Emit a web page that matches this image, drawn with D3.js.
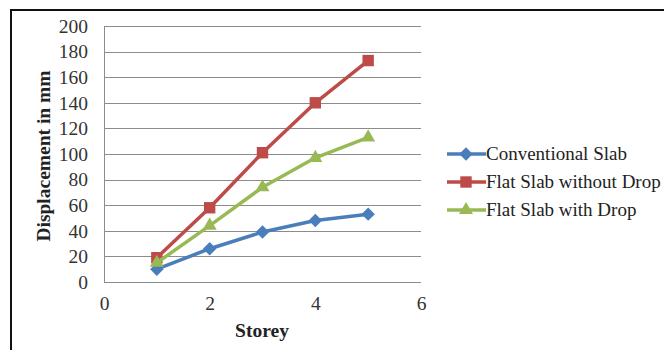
<!DOCTYPE html>
<html>
<head>
<meta charset="utf-8">
<script src="https://cdn.jsdelivr.net/npm/d3@7"></script>
<style>
  html, body { margin: 0; padding: 0; background: #fff; }
  svg { display: block; }
</style>
</head>
<body>
<svg id="chart" width="664" height="350"></svg>
<script>
// Storey numbers and lateral displacement (mm) per slab system
const storeys = [1, 2, 3, 4, 5];
const conventionalSlab = [10, 26, 39, 48, 53];
const flatSlabWithoutDrop = [19, 58, 101, 140, 173];
const flatSlabWithDrop = [15, 44, 74, 97, 113];

const seriesNames = ["Conventional Slab", "Flat Slab without Drop", "Flat Slab with Drop"];
const xTicks = [0, 2, 4, 6];
const yTicks = [0, 20, 40, 60, 80, 100, 120, 140, 160, 180, 200];

const FONT = "'Liberation Serif', 'Times New Roman', serif";

// a diamond drawn as a square turned 45 degrees
const diamond = {
  draw(ctx, size) {
    const r = Math.sqrt(size / 2);
    ctx.moveTo(0, -r); ctx.lineTo(r, 0); ctx.lineTo(0, r); ctx.lineTo(-r, 0); ctx.closePath();
  }
};

const series = [
  { name: seriesNames[0], values: conventionalSlab, color: "#4a7ebb", symbol: diamond, size: 90 },
  { name: seriesNames[1], values: flatSlabWithoutDrop, color: "#be4b48", symbol: d3.symbolSquare, size: 130 },
  { name: seriesNames[2], values: flatSlabWithDrop, color: "#98b954", symbol: d3.symbolTriangle, size: 85 }
];

const svg = d3.select("#chart");

// outer frame (top and left edges)
svg.append("line").attr("x1", 10).attr("x2", 664).attr("y1", 10).attr("y2", 10)
  .attr("stroke", "#111").attr("stroke-width", 2);
svg.append("line").attr("x1", 11).attr("x2", 11).attr("y1", 9).attr("y2", 350)
  .attr("stroke", "#111").attr("stroke-width", 2);

const x = d3.scaleLinear().domain([0, 6]).range([104, 421]);
const y = d3.scaleLinear().domain([0, 200]).range([282, 26]);

// horizontal gridlines
svg.append("g").selectAll("line").data(yTicks).join("line")
  .attr("x1", x(0)).attr("x2", x(6))
  .attr("y1", d => Math.round(y(d)) + 0.5).attr("y2", d => Math.round(y(d)) + 0.5)
  .attr("stroke", "#8c8c8c").attr("stroke-width", 1);

// left axis line
svg.append("line").attr("x1", x(0) + 0.5).attr("x2", x(0) + 0.5)
  .attr("y1", y(200)).attr("y2", y(0))
  .attr("stroke", "#8c8c8c").attr("stroke-width", 1);

// y axis tick labels
const yAxis = d3.axisLeft(y).tickValues(yTicks).tickFormat(d3.format("d")).tickSize(0).tickPadding(16);
const gy = svg.append("g").attr("transform", `translate(${x(0)},0)`).call(yAxis);
gy.select(".domain").remove();
gy.selectAll("text").style("font-family", FONT).style("font-size", "19.5px").attr("fill", "#333");

// x axis tick labels
const xAxis = d3.axisBottom(x).tickValues(xTicks).tickFormat(d3.format("d")).tickSize(0).tickPadding(14);
const gx = svg.append("g").attr("transform", `translate(0,${y(0)})`).call(xAxis);
gx.select(".domain").remove();
gx.selectAll("text").style("font-family", FONT).style("font-size", "19.5px").attr("fill", "#333");

// axis titles
svg.append("text").attr("x", 262).attr("y", 337).attr("text-anchor", "middle")
  .style("font-family", FONT).style("font-size", "19.5px").style("font-weight", "bold")
  .attr("fill", "#222").text("Storey");
svg.append("text").attr("transform", "translate(50,156) rotate(-90)")
  .attr("text-anchor", "middle")
  .style("font-family", FONT).style("font-size", "19.5px").style("font-weight", "bold")
  .attr("fill", "#222").text("Displacement in mm");

// series lines and markers
const line = d3.line().x((d, i) => x(storeys[i])).y(d => y(d));
series.forEach(s => {
  svg.append("path").datum(s.values).attr("d", line)
    .attr("fill", "none").attr("stroke", s.color).attr("stroke-width", 3.5)
    .attr("stroke-linejoin", "round");
  svg.append("g").selectAll("path").data(s.values).join("path")
    .attr("transform", (d, i) => `translate(${x(storeys[i])},${y(d)})`)
    .attr("d", d3.symbol().type(s.symbol).size(s.size))
    .attr("fill", s.color);
});

// legend
const legend = svg.append("g");
series.forEach((s, i) => {
  const ly = 154 + i * 28;
  legend.append("line").attr("x1", 447).attr("x2", 486).attr("y1", ly).attr("y2", ly)
    .attr("stroke", s.color).attr("stroke-width", 3.5);
  legend.append("path").attr("transform", `translate(466,${ly})`)
    .attr("d", d3.symbol().type(s.symbol).size(s.size))
    .attr("fill", s.color);
  legend.append("text").attr("x", 486).attr("y", ly + 5.5)
    .style("font-family", FONT).style("font-size", "19px")
    .attr("fill", "#222").text(s.name);
});
</script>
</body>
</html>
